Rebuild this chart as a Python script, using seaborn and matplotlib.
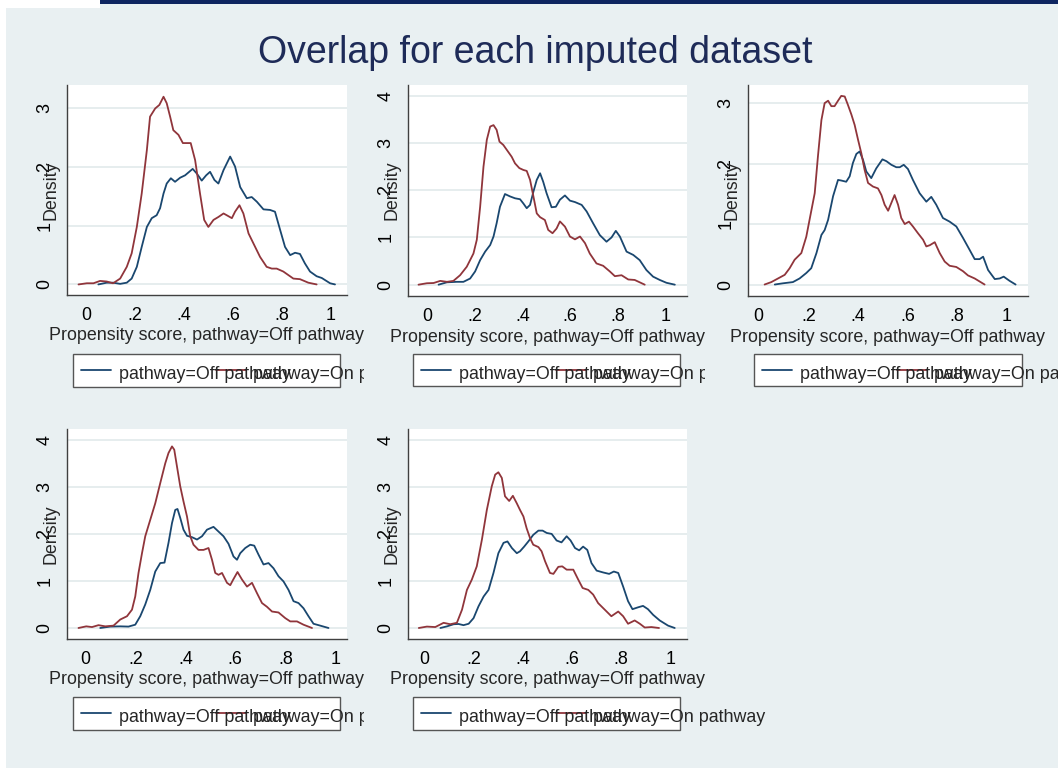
import pandas as pd
import numpy as np
import matplotlib
matplotlib.use('Agg')
import matplotlib.pyplot as plt
import seaborn as sns
from matplotlib.patches import Rectangle
from matplotlib.lines import Line2D
from matplotlib.transforms import Bbox, TransformedBbox

# ---- data (kernel density curves, 5 imputations) ----
title = 'Overlap for each imputed dataset'
x_label = 'Propensity score, pathway=Off pathway'
y_label = 'Density'
groups = ['Off pathway', 'On pathway']
legend_labels = ['pathway=Off pathway', 'pathway=On pathway']
x_ticks = [0, 0.2, 0.4, 0.6, 0.8, 1]
x_tick_labels = ['0', '.2', '.4', '.6', '.8', '1']

imp1_off_x = [0.05, 0.084, 0.11, 0.139, 0.166, 0.186, 0.207, 0.227, 0.248, 0.268,
              0.288, 0.302, 0.316, 0.329, 0.346, 0.363, 0.384, 0.404, 0.435, 0.452,
              0.472, 0.49, 0.506, 0.524, 0.54, 0.561, 0.588, 0.608, 0.629, 0.656,
              0.676, 0.697, 0.724, 0.751, 0.771, 0.792, 0.812, 0.833, 0.853, 0.873,
              0.893, 0.914, 0.941, 0.962, 0.996, 1.016]
imp1_off_y = [0, 0.03, 0.03, 0.01, 0.03, 0.10, 0.30, 0.64, 0.98, 1.13,
              1.18, 1.30, 1.55, 1.72, 1.81, 1.75, 1.82, 1.86, 1.97, 1.89,
              1.77, 1.86, 1.92, 1.78, 1.72, 1.95, 2.18, 2.01, 1.66, 1.47,
              1.49, 1.41, 1.28, 1.27, 1.24, 0.93, 0.64, 0.5, 0.54, 0.52,
              0.36, 0.22, 0.14, 0.11, 0.02, 0]
imp1_on_x = [-0.031, 0.003, 0.03, 0.057, 0.084, 0.11, 0.139, 0.166, 0.186, 0.207,
             0.227, 0.248, 0.261, 0.282, 0.299, 0.316, 0.329, 0.343, 0.356, 0.377,
             0.395, 0.427, 0.445, 0.465, 0.482, 0.499, 0.52, 0.54, 0.561, 0.574,
             0.595, 0.608, 0.626, 0.642, 0.663, 0.69, 0.71, 0.737, 0.758, 0.778,
             0.805, 0.846, 0.873, 0.907, 0.941]
imp1_on_y = [0, 0.02, 0.02, 0.06, 0.05, 0.02, 0.1, 0.30, 0.53, 0.98,
             1.55, 2.29, 2.86, 3.0, 3.06, 3.20, 3.09, 2.86, 2.63, 2.55,
             2.41, 2.41, 2.12, 1.55, 1.10, 0.98, 1.10, 1.15, 1.21, 1.18,
             1.13, 1.24, 1.35, 1.21, 0.87, 0.64, 0.47, 0.30, 0.27, 0.27,
             0.22, 0.10, 0.09, 0.03, 0]

imp2_off_x = [0.049, 0.084, 0.125, 0.153, 0.181, 0.202, 0.223, 0.244, 0.265, 0.279,
              0.292, 0.306, 0.327, 0.348, 0.369, 0.39, 0.404, 0.418, 0.432, 0.446,
              0.46, 0.474, 0.487, 0.501, 0.522, 0.54, 0.557, 0.578, 0.599, 0.62,
              0.648, 0.669, 0.696, 0.724, 0.752, 0.773, 0.791, 0.808, 0.836, 0.864,
              0.891, 0.919, 0.947, 0.975, 1.003, 1.038]
imp2_off_y = [0, 0.05, 0.06, 0.06, 0.13, 0.28, 0.52, 0.70, 0.84, 1.02,
              1.30, 1.65, 1.92, 1.87, 1.83, 1.81, 1.72, 1.62, 1.69, 1.97,
              2.22, 2.36, 2.18, 1.94, 1.64, 1.65, 1.80, 1.89, 1.78, 1.75,
              1.69, 1.55, 1.30, 1.05, 0.91, 1.0, 1.14, 1.02, 0.70, 0.63,
              0.52, 0.31, 0.17, 0.10, 0.04, 0]
imp2_on_x = [-0.035, 0, 0.028, 0.056, 0.084, 0.111, 0.139, 0.167, 0.195, 0.209,
             0.223, 0.237, 0.251, 0.265, 0.279, 0.292, 0.304, 0.32, 0.334, 0.355,
             0.369, 0.387, 0.404, 0.418, 0.432, 0.446, 0.46, 0.474, 0.494, 0.508,
             0.526, 0.543, 0.557, 0.578, 0.599, 0.62, 0.641, 0.662, 0.682, 0.71,
             0.738, 0.766, 0.787, 0.815, 0.843, 0.87, 0.891, 0.912]
imp2_on_y = [0, 0.03, 0.035, 0.08, 0.06, 0.08, 0.2, 0.38, 0.66, 0.95,
             1.65, 2.5, 3.07, 3.35, 3.38, 3.28, 3.03, 2.96, 2.86, 2.71,
             2.57, 2.47, 2.43, 2.41, 2.22, 1.87, 1.51, 1.43, 1.37, 1.16,
             1.09, 1.19, 1.34, 1.23, 1.02, 0.96, 1.02, 0.88, 0.66, 0.45,
             0.40, 0.28, 0.18, 0.2, 0.11, 0.1, 0.05, 0]

imp3_off_x = [0.065, 0.098, 0.138, 0.165, 0.192, 0.212, 0.233, 0.253, 0.266, 0.28,
              0.3, 0.32, 0.333, 0.353, 0.367, 0.38, 0.394, 0.407, 0.421, 0.434,
              0.454, 0.474, 0.499, 0.515, 0.535, 0.555, 0.569, 0.585, 0.602, 0.622,
              0.649, 0.676, 0.696, 0.716, 0.743, 0.77, 0.797, 0.824, 0.851, 0.871,
              0.891, 0.905, 0.925, 0.952, 0.972, 0.988, 1.012, 1.036]
imp3_off_y = [0, 0.02, 0.04, 0.10, 0.19, 0.27, 0.52, 0.82, 0.90, 1.07,
              1.46, 1.73, 1.72, 1.70, 1.79, 2.01, 2.16, 2.2, 2.06, 1.87,
              1.76, 1.92, 2.07, 2.04, 1.98, 1.94, 1.94, 1.98, 1.91, 1.73,
              1.51, 1.37, 1.45, 1.32, 1.10, 1.04, 0.96, 0.77, 0.57, 0.42,
              0.42, 0.46, 0.24, 0.09, 0.10, 0.13, 0.06, 0]
imp3_on_x = [0.024, 0.051, 0.078, 0.105, 0.125, 0.145, 0.172, 0.192, 0.208, 0.226,
             0.239, 0.253, 0.266, 0.28, 0.293, 0.306, 0.32, 0.333, 0.347, 0.36,
             0.374, 0.387, 0.401, 0.414, 0.427, 0.441, 0.461, 0.481, 0.495, 0.508,
             0.522, 0.535, 0.548, 0.562, 0.575, 0.589, 0.606, 0.622, 0.642, 0.663,
             0.676, 0.69, 0.71, 0.73, 0.75, 0.77, 0.797, 0.824, 0.844, 0.871,
             0.891, 0.911]
imp3_on_y = [0, 0.04, 0.1, 0.16, 0.27, 0.41, 0.52, 0.79, 1.13, 1.51,
             2.12, 2.72, 3.0, 3.04, 2.95, 2.95, 3.04, 3.12, 3.11, 2.97,
             2.81, 2.64, 2.39, 2.17, 1.90, 1.68, 1.62, 1.59, 1.48, 1.32,
             1.22, 1.35, 1.48, 1.32, 1.10, 1.0, 1.04, 0.96, 0.85, 0.74,
             0.63, 0.65, 0.7, 0.52, 0.38, 0.31, 0.29, 0.22, 0.15, 0.10,
             0.05, 0]

imp4_off_x = [0.06, 0.1, 0.14, 0.173, 0.2, 0.22, 0.24, 0.26, 0.28, 0.3,
              0.317, 0.333, 0.347, 0.36, 0.369, 0.38, 0.393, 0.407, 0.427, 0.447,
              0.467, 0.487, 0.513, 0.533, 0.553, 0.573, 0.593, 0.607, 0.62, 0.64,
              0.66, 0.676, 0.693, 0.713, 0.733, 0.753, 0.773, 0.793, 0.813, 0.833,
              0.853, 0.873, 0.893, 0.913, 0.94, 0.973]
imp4_off_y = [0, 0.03, 0.035, 0.03, 0.07, 0.25, 0.50, 0.81, 1.20, 1.38,
              1.39, 1.81, 2.23, 2.51, 2.53, 2.34, 2.09, 1.96, 1.93, 1.88,
              1.95, 2.09, 2.15, 2.05, 1.95, 1.79, 1.52, 1.45, 1.59, 1.70,
              1.77, 1.75, 1.56, 1.35, 1.38, 1.27, 1.10, 0.99, 0.81, 0.57,
              0.53, 0.42, 0.25, 0.09, 0.05, 0]
imp4_on_x = [-0.027, 0.004, 0.027, 0.053, 0.08, 0.113, 0.14, 0.167, 0.187, 0.2,
             0.213, 0.227, 0.24, 0.26, 0.28, 0.3, 0.32, 0.333, 0.347, 0.356,
             0.367, 0.38, 0.393, 0.407, 0.42, 0.433, 0.453, 0.473, 0.493, 0.507,
             0.52, 0.533, 0.547, 0.567, 0.58, 0.593, 0.609, 0.627, 0.647, 0.667,
             0.687, 0.707, 0.727, 0.747, 0.773, 0.8, 0.82, 0.847, 0.873, 0.907]
imp4_on_y = [0, 0.035, 0.02, 0.06, 0.035, 0.05, 0.18, 0.25, 0.39, 0.67,
             1.17, 1.59, 1.95, 2.30, 2.65, 3.08, 3.5, 3.72, 3.86, 3.79,
             3.43, 3.01, 2.69, 2.37, 1.95, 1.77, 1.66, 1.66, 1.70, 1.45,
             1.17, 1.13, 1.17, 0.96, 0.91, 1.04, 1.19, 1.03, 0.88, 0.96,
             0.74, 0.53, 0.45, 0.35, 0.33, 0.21, 0.14, 0.14, 0.07, 0]

imp5_off_x = [0.064, 0.091, 0.118, 0.138, 0.158, 0.179, 0.199, 0.219, 0.24, 0.26,
              0.28, 0.3, 0.321, 0.337, 0.355, 0.375, 0.388, 0.405, 0.422, 0.442,
              0.463, 0.48, 0.497, 0.517, 0.537, 0.557, 0.578, 0.594, 0.612, 0.629,
              0.645, 0.662, 0.679, 0.7, 0.727, 0.751, 0.77, 0.788, 0.808, 0.828,
              0.846, 0.869, 0.889, 0.909, 0.93, 0.957, 0.991, 1.018]
imp5_off_y = [0, 0.035, 0.08, 0.085, 0.06, 0.09, 0.21, 0.46, 0.67, 0.81,
              1.17, 1.59, 1.81, 1.84, 1.70, 1.59, 1.63, 1.73, 1.84, 1.98,
              2.07, 2.07, 2.02, 2.0, 1.86, 1.82, 1.95, 1.86, 1.70, 1.65,
              1.73, 1.66, 1.38, 1.22, 1.18, 1.15, 1.20, 1.17, 0.88, 0.57,
              0.40, 0.44, 0.47, 0.40, 0.28, 0.16, 0.05, 0]
imp5_on_x = [-0.024, 0.009, 0.043, 0.077, 0.104, 0.131, 0.152, 0.172, 0.192, 0.212,
             0.233, 0.253, 0.273, 0.287, 0.3, 0.314, 0.327, 0.344, 0.359, 0.375,
             0.388, 0.402, 0.415, 0.429, 0.442, 0.463, 0.476, 0.49, 0.51, 0.524,
             0.544, 0.56, 0.578, 0.605, 0.625, 0.643, 0.666, 0.686, 0.706, 0.733,
             0.76, 0.788, 0.808, 0.828, 0.855, 0.876, 0.896, 0.923, 0.954]
imp5_on_y = [0, 0.03, 0.02, 0.11, 0.08, 0.11, 0.39, 0.81, 1.03, 1.31,
             1.88, 2.51, 3.01, 3.26, 3.31, 3.19, 2.80, 2.70, 2.81, 2.65,
             2.51, 2.37, 2.12, 1.91, 1.77, 1.72, 1.63, 1.42, 1.17, 1.15,
             1.30, 1.31, 1.24, 1.24, 1.03, 0.85, 0.81, 0.71, 0.53, 0.39,
             0.25, 0.35, 0.25, 0.09, 0.16, 0.09, 0.01, 0.02, 0]

curves = [
    (imp1_off_x, imp1_off_y, imp1_on_x, imp1_on_y),
    (imp2_off_x, imp2_off_y, imp2_on_x, imp2_on_y),
    (imp3_off_x, imp3_off_y, imp3_on_x, imp3_on_y),
    (imp4_off_x, imp4_off_y, imp4_on_x, imp4_on_y),
    (imp5_off_x, imp5_off_y, imp5_on_x, imp5_on_y),
]
y_tick_max = [3, 4, 3, 4, 4]

# ---- layout (pixels in a 1058x768 canvas) ----
W, H = 1058, 768
BG = '#e9f0f2'
NAVY = '#0e2560'
TITLE_C = '#1e2b58'
BLUE = '#1a476f'
RED = '#90353b'
AXC = '#404040'
GRID = '#e4eced'
FS = 12.9

layout = [
    dict(box=(67, 85, 347, 295), xlim=(-0.078, 1.065), ylim=(-0.18, 3.40), leg=(73, 354, 340, 387), clip=364),
    dict(box=(408, 85, 687, 296), xlim=(-0.079, 1.089), ylim=(-0.24, 4.23), leg=(413, 354, 680, 386), clip=705),
    dict(box=(748, 85, 1028, 296), xlim=(-0.043, 1.086), ylim=(-0.19, 3.30), leg=(754, 354, 1022, 386), clip=W),
    dict(box=(67, 429, 347, 639), xlim=(-0.073, 1.047), ylim=(-0.234, 4.23), leg=(73, 697, 340, 730), clip=364),
    dict(box=(408, 429, 687, 639), xlim=(-0.068, 1.068), ylim=(-0.234, 4.23), leg=(413, 697, 680, 730), clip=W),
]

sns.set_style('white')
plt.rcParams['font.family'] = ['Liberation Sans', 'DejaVu Sans']


def fx(px):
    return px / W


def fy(py):
    return 1 - py / H


def clip_to(artist, right_px):
    box = TransformedBbox(Bbox([[0, 0], [fx(right_px), 1]]), fig.transFigure)
    artist.set_clip_box(box)
    artist.set_clip_on(True)


fig = plt.figure(figsize=(W / 100, H / 100), dpi=100, facecolor=BG)

# slide decorations
fig.add_artist(Rectangle((0, fy(8)), fx(100), 8 / H, transform=fig.transFigure, fc='white', ec='none'))
fig.add_artist(Rectangle((0, 0), fx(6), 1, transform=fig.transFigure, fc='white', ec='none'))
fig.add_artist(Rectangle((fx(100), fy(4)), fx(W - 100), 4 / H, transform=fig.transFigure, fc=NAVY, ec='none'))
fig.text(fx(535), fy(63), title, ha='center', va='baseline', fontsize=27, color=TITLE_C)

for (off_x, off_y, on_x, on_y), ytop, lay in zip(curves, y_tick_max, layout):
    x0, y0, x1, y1 = lay['box']
    ax = fig.add_axes([fx(x0), fy(y1), (x1 - x0) / W, (y1 - y0) / H])
    ax.set_facecolor('white')

    df = pd.concat([
        pd.DataFrame({'score': off_x, 'density': off_y, 'pathway': groups[0]}),
        pd.DataFrame({'score': on_x, 'density': on_y, 'pathway': groups[1]}),
    ], ignore_index=True)
    sns.lineplot(data=df, x='score', y='density', hue='pathway', hue_order=groups,
                 palette=[BLUE, RED], estimator=None, sort=False, legend=False,
                 linewidth=1.3, ax=ax)

    ax.set_xlim(*lay['xlim'])
    ax.set_ylim(*lay['ylim'])
    ax.set_xticks(x_ticks)
    ax.set_xticklabels(x_tick_labels, fontsize=FS)
    yt = list(range(ytop + 1))
    ax.set_yticks(yt)
    ax.set_yticklabels([str(v) for v in yt], fontsize=FS, rotation=90, va='center')
    ax.tick_params(axis='both', length=7, width=1, color=AXC, labelcolor='black')
    ax.tick_params(axis='x', pad=1.5)
    ax.tick_params(axis='y', pad=2.8)
    ax.yaxis.grid(True, color=GRID, lw=1.3)
    ax.xaxis.grid(False)
    ax.set_axisbelow(True)
    for s in ['top', 'right']:
        ax.spines[s].set_visible(False)
    for s in ['left', 'bottom']:
        ax.spines[s].set_color(AXC)
        ax.spines[s].set_linewidth(1)

    ax.set_xlabel(x_label, fontsize=FS, va='baseline')
    ax.xaxis.set_label_coords(0.5, -45.5 / (y1 - y0))
    clip_to(ax.xaxis.label, lay['clip'])
    ax.set_ylabel(y_label, fontsize=FS, va='baseline')
    ax.yaxis.set_label_coords(-11.5 / (x1 - x0), 0.5)

    # legend as drawn by the original (entries overlap inside a narrow box)
    lx0, ly0, lx1, ly1 = lay['leg']
    fig.add_artist(Rectangle((fx(lx0), fy(ly1)), (lx1 - lx0) / W, (ly1 - ly0) / H,
                             transform=fig.transFigure, fc='white', ec='#555555', lw=1))
    yc = ly0 + 16
    fig.add_artist(Line2D([fx(lx0 + 8), fx(lx0 + 38)], [fy(yc), fy(yc)], color=BLUE, lw=1.3,
                          transform=fig.transFigure))
    fig.add_artist(Line2D([fx(lx0 + 143), fx(lx0 + 173)], [fy(yc), fy(yc)], color=RED, lw=1.3,
                          transform=fig.transFigure))
    t1 = fig.text(fx(lx0 + 46), fy(ly0 + 24.5), legend_labels[0], ha='left', va='baseline', fontsize=FS)
    t2 = fig.text(fx(lx0 + 180), fy(ly0 + 24.5), legend_labels[1], ha='left', va='baseline', fontsize=FS)
    clip_to(t1, lay['clip'])
    clip_to(t2, lay['clip'])

fig.savefig('out.png', dpi=100, facecolor=BG)
plt.close(fig)
